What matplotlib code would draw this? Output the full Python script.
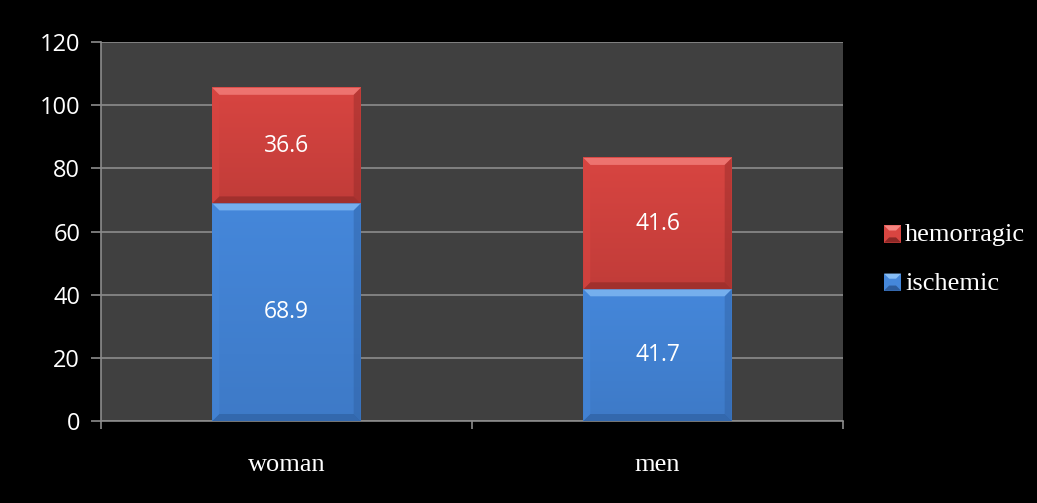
import matplotlib
matplotlib.use("Agg")
import matplotlib.pyplot as plt
from matplotlib.patches import Polygon, Rectangle
from matplotlib.colors import to_rgb
from matplotlib.legend_handler import HandlerBase
import numpy as np

categories = ["woman", "men"]
ischemic = [68.9, 41.7]
hemorragic = [36.6, 41.6]
yticks = [0, 20, 40, 60, 80, 100, 120]

fig = plt.figure(figsize=(10.37, 5.03), dpi=100, facecolor="black")
ax = fig.add_axes([101/1037, 1 - 421/503, (843-101)/1037, (421-42)/503])
ax.set_facecolor("#404040")

x = np.arange(len(categories))
w = 0.4
series = [
    ("ischemic", ischemic, np.zeros(len(x)), "#4587da", "#86bdf5", "#2d5c9c"),
    ("hemorragic", hemorragic, np.array(ischemic), "#d84541", "#f58480", "#8c2826"),
]

ax.set_xlim(-0.5, len(categories) - 0.5)
ax.set_ylim(0, 120)
fig.canvas.draw()

def px_to_data(dx, dy):
    inv = ax.transData.inverted()
    p0 = inv.transform(ax.transData.transform((0, 0)))
    p1 = inv.transform(ax.transData.transform((0, 0)) + np.array([dx, dy]))
    return p1 - p0

bx, by = px_to_data(7, 7)

for name, vals, bottoms, base, light, dark in series:
    ax.bar(x, vals, w, bottom=bottoms, color=base, zorder=3, linewidth=0)
    for xi, v, b in zip(x, vals, bottoms):
        l, r = xi - w/2, xi + w/2
        t, btm = b + v, b
        grad = np.linspace(0, 1, 50).reshape(-1, 1, 1)
        c1 = np.array(to_rgb(base)); c2 = np.array(to_rgb(dark))
        img = c1 * (1 - 0.3 * grad) + c2 * (0.3 * grad)
        ax.imshow(img, extent=[l, r, btm, t], aspect="auto", zorder=3.1, interpolation="bilinear")
        top = Polygon([(l, t), (r, t), (r - bx, t - by), (l + bx, t - by)], closed=True,
                      facecolor=light, edgecolor="none", zorder=3.2, alpha=0.75)
        bot = Polygon([(l, btm), (r, btm), (r - bx, btm + by), (l + bx, btm + by)], closed=True,
                      facecolor=dark, edgecolor="none", zorder=3.2, alpha=0.6)
        lef = Polygon([(l, btm), (l, t), (l + bx, t - by), (l + bx, btm + by)], closed=True,
                      facecolor=base, edgecolor="none", zorder=3.2, alpha=0.6)
        rig = Polygon([(r, btm), (r, t), (r - bx, t - by), (r - bx, btm + by)], closed=True,
                      facecolor=dark, edgecolor="none", zorder=3.2, alpha=0.4)
        for p in (top, bot, lef, rig):
            ax.add_patch(p)
        ax.text(xi, b + v / 2, f"{v:.1f}", ha="center", va="center", color="white",
                fontsize=16.5, family="Open Sans", zorder=5)

ax.set_ylim(0, 120)
ax.set_xlim(-0.5, len(categories) - 0.5)
ax.set_yticks(yticks)
ax.set_yticklabels([str(t) for t in yticks], family="Open Sans", fontsize=17, color="white")
ax.yaxis.grid(True, color="#8c8c8c", linewidth=1.2, zorder=0)
ax.set_axisbelow(True)
ax.set_xticks(x)
ax.set_xticklabels(categories, family="Liberation Serif", fontsize=19, color="white")
ax.set_xticks([-0.5, 0.5, 1.5], minor=True)
ax.tick_params(axis="x", which="major", length=0, pad=24)
ax.tick_params(axis="x", which="minor", length=6, color="#8c8c8c", width=1.2, direction="out")
ax.tick_params(axis="y", length=7, color="#8c8c8c", width=1.2, pad=8)
for s in ["top", "right"]:
    ax.spines[s].set_visible(False)
for s in ["left", "bottom"]:
    ax.spines[s].set_color("#8c8c8c")
    ax.spines[s].set_linewidth(1.2)


class BevelHandler(HandlerBase):
    def __init__(self, base, light, dark):
        super().__init__()
        self.base, self.light, self.dark = base, light, dark

    def create_artists(self, legend, orig_handle, xd, yd, width, height, fontsize, trans):
        s = min(width, height)
        x0 = xd + (width - s) / 2
        y0 = yd + (height - s) / 2 - s * 0.05
        b = s * 0.3
        arts = [Rectangle((x0, y0), s, s, facecolor=self.base, edgecolor="none", transform=trans),
                Polygon([(x0, y0 + s), (x0 + s, y0 + s), (x0 + s - b, y0 + s - b), (x0 + b, y0 + s - b)],
                        facecolor=self.light, edgecolor="none", transform=trans),
                Polygon([(x0, y0), (x0 + s, y0), (x0 + s - b, y0 + b), (x0 + b, y0 + b)],
                        facecolor=self.dark, edgecolor="none", transform=trans)]
        return arts


h_hem = Rectangle((0, 0), 1, 1, label="hemorragic")
h_isc = Rectangle((0, 0), 1, 1, label="ischemic")
leg = fig.legend(handles=[h_hem, h_isc], loc="center left",
                 bbox_to_anchor=(884/1037, 1 - 259/503),
                 frameon=False, prop={"family": "Liberation Serif", "size": 19},
                 handlelength=0.65, handleheight=0.65, handletextpad=0.15, labelspacing=0.95,
                 labelcolor="white", borderaxespad=0, borderpad=0,
                 handler_map={h_hem: BevelHandler("#d84541", "#f58480", "#8c2826"),
                              h_isc: BevelHandler("#4587da", "#86bdf5", "#2d5c9c")})

fig.savefig("out.png", dpi=100, facecolor="black")
